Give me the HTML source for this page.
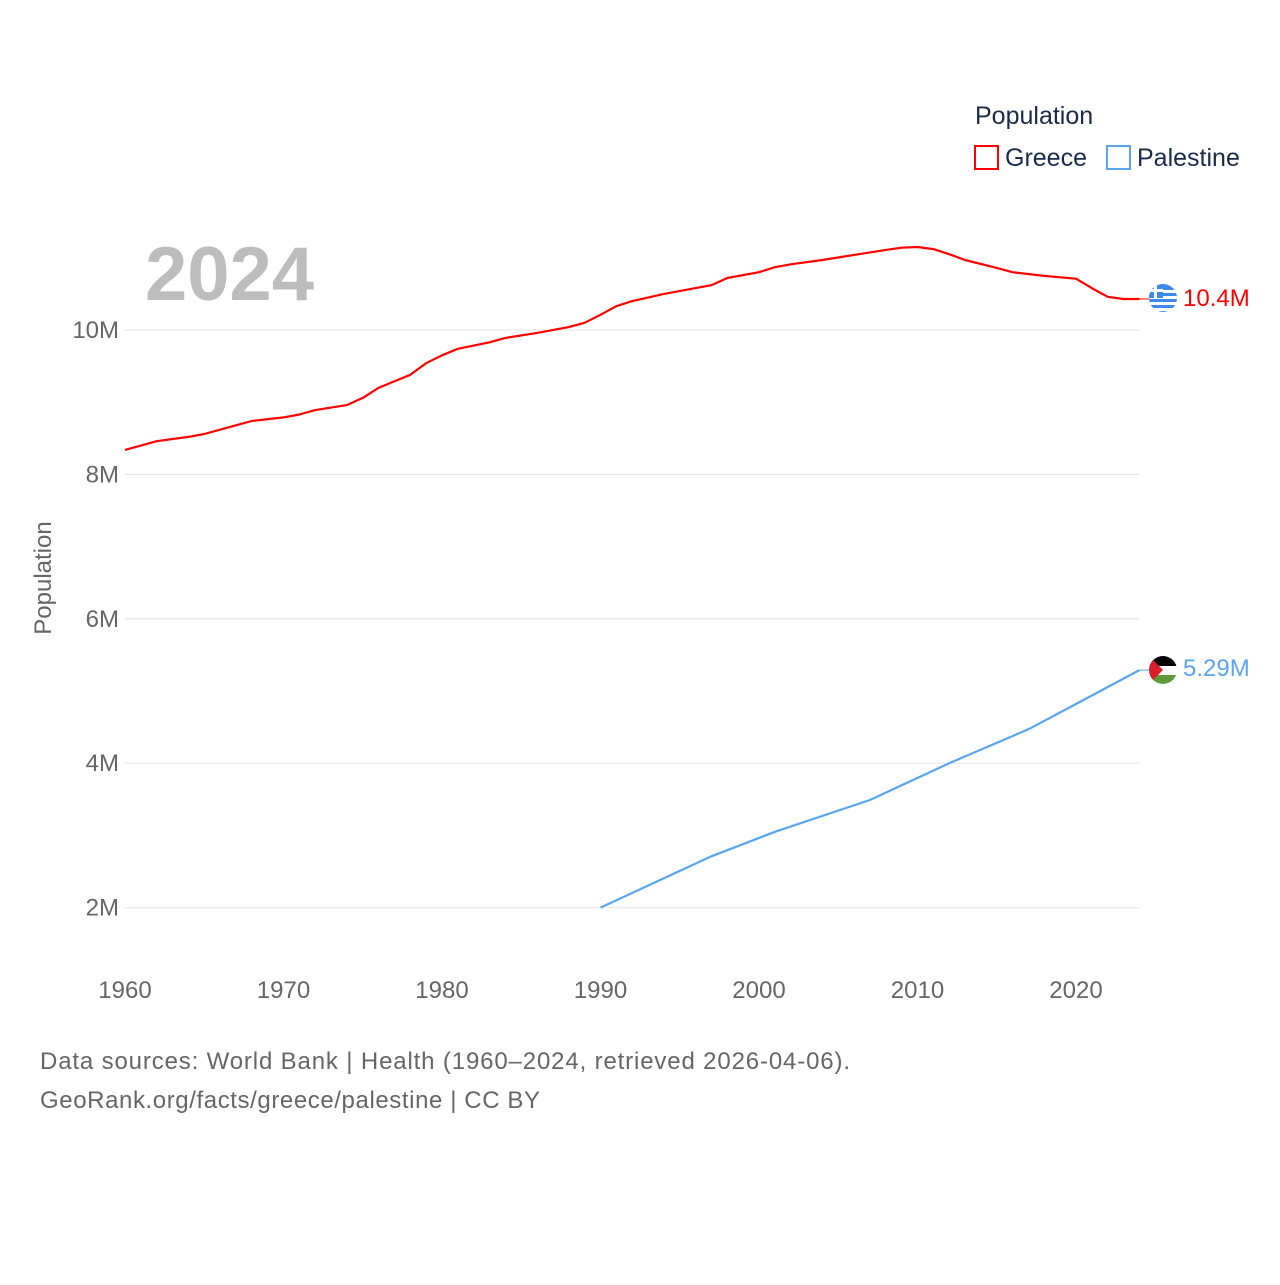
<!DOCTYPE html>
<html><head><meta charset="utf-8"><style>
body{margin:0;background:#fff;font-family:"Liberation Sans",sans-serif}
svg text{font-family:"Liberation Sans",sans-serif}
</style></head><body>
<svg id="chart" width="1280" height="1280" viewBox="0 0 1280 1280">
<text x="975" y="124" font-size="25" fill="#1a2a4a">Population</text>
<g><rect x="975" y="146" width="23" height="23" fill="none" stroke="#f00" stroke-width="2"/><text x="1005" y="166" font-size="25" fill="#1a2a4a">Greece</text></g>
<g><rect x="1107" y="146" width="23" height="23" fill="none" stroke="#5aa5ee" stroke-width="2"/><text x="1137" y="166" font-size="25" fill="#1a2a4a">Palestine</text></g>
<text x="145" y="300" font-size="76" font-weight="bold" fill="#bdbdbd">2024</text>
<g id="grid"></g><g id="xt"></g><g id="lines"></g>
<text transform="translate(51,578) rotate(-90)" text-anchor="middle" font-size="24" fill="#666">Population</text>
<g>
<clipPath id="cg"><circle cx="1163" cy="298" r="14"/></clipPath>
<g clip-path="url(#cg)"><rect x="1149" y="284" width="28" height="28" fill="#3d8be8"/>
<rect x="1149" y="290" width="28" height="3" fill="#fff"/><rect x="1149" y="296" width="28" height="3" fill="#fff"/><rect x="1149" y="302" width="28" height="3" fill="#fff"/><rect x="1149" y="308" width="28" height="3" fill="#fff"/>
<rect x="1149" y="284" width="14" height="14" fill="#3d8be8"/><rect x="1149" y="289" width="14" height="3" fill="#fff"/><rect x="1154" y="284" width="3" height="14" fill="#fff"/></g></g>
<g>
<clipPath id="cp"><circle cx="1163" cy="670" r="14"/></clipPath>
<g clip-path="url(#cp)"><rect x="1149" y="656" width="28" height="10" fill="#000"/><rect x="1149" y="666" width="28" height="9" fill="#fff"/><rect x="1149" y="675" width="28" height="10" fill="#5c9a3a"/><polygon points="1149,656 1163,670 1149,684" fill="#d81e2b"/></g></g>
<text x="1183" y="306" font-size="24" fill="#f00">10.4M</text>
<text x="1183" y="676" font-size="24" fill="#5aa5ee">5.29M</text>
<text x="40" y="1069" font-size="24" fill="#666" textLength="810">Data sources: World Bank | Health (1960–2024, retrieved 2026-04-06).</text>
<text x="40" y="1108" font-size="24" fill="#666" textLength="500">GeoRank.org/facts/greece/palestine | CC BY</text>
</svg>
<script>
const yTicks=[2,4,6,8,10];
const yTickLabels=["2M","4M","6M","8M","10M"];
const xTicks=[1960,1970,1980,1990,2000,2010,2020];
const greeceYears=[1960,1962,1964,1965,1967,1968,1970,1971,1972,1974,1975,1976,1978,1979,1980,1981,1983,1984,1986,1988,1989,1990,1991,1992,1994,1996,1997,1998,2000,2001,2002,2004,2006,2008,2009,2010,2011,2012,2013,2015,2016,2018,2020,2021,2022,2023,2024];
const greeceValues=[8.34,8.46,8.52,8.56,8.68,8.74,8.79,8.83,8.89,8.96,9.06,9.2,9.38,9.54,9.65,9.74,9.83,9.89,9.96,10.04,10.1,10.21,10.33,10.4,10.5,10.58,10.62,10.72,10.8,10.87,10.91,10.97,11.04,11.11,11.14,11.15,11.12,11.05,10.97,10.86,10.8,10.75,10.71,10.58,10.46,10.43,10.43];
const palYears=[1990,1997,2001,2007,2012,2017,2020,2024];
const palValues=[2.0,2.71,3.05,3.49,4.0,4.47,4.82,5.29];
const X=y=>125+(y-1960)*15.85;
const Y=v=>330+(10-v)*72.2;
const NS="http://www.w3.org/2000/svg";
const mk=(t,a,p)=>{const e=document.createElementNS(NS,t);for(const k in a)e.setAttribute(k,a[k]);document.getElementById(p).appendChild(e);return e;};
yTicks.forEach((v,i)=>{
 const l=mk("line",{x1:125,x2:1139,y1:Y(v),y2:Y(v),stroke:"#e6e6e6","stroke-width":1},"grid");
 
 
 const t=mk("text",{x:119,y:Y(v)+8,"text-anchor":"end","font-size":24,fill:"#666"},"grid");
 t.textContent=yTickLabels[i];
 
 
});
xTicks.forEach(y=>{
 const t=mk("text",{x:X(y),y:998,"text-anchor":"middle","font-size":24,fill:"#666"},"xt");
 t.textContent=y;
 
 
});
const line=(ys,vs,c,n)=>{
 const d=ys.map((y,i)=>(i?"L":"M")+X(y).toFixed(1)+","+Y(vs[i]).toFixed(1)).join("");
 const p=mk("path",{d:d,fill:"none",stroke:c,"stroke-width":2.2,"stroke-linejoin":"round"},"lines");
 
 
 const last=vs[vs.length-1];
 const l=mk("line",{x1:X(ys[ys.length-1]),x2:1150,y1:Y(last),y2:Y(last),stroke:c,"stroke-width":1},"lines");
 
 
};
line(greeceYears,greeceValues,"#ff0000","greece-line");
line(palYears,palValues,"#5aa5ee","palestine-line");
</script>
</body></html>
